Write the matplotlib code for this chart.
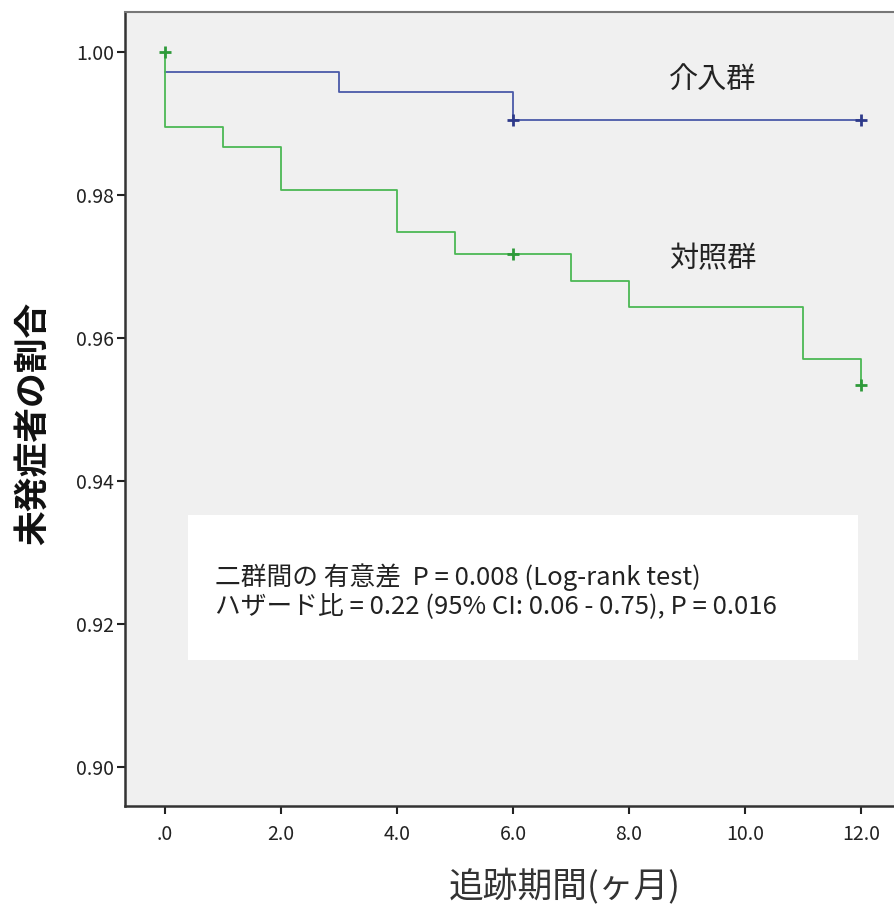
import matplotlib
matplotlib.use("Agg")
import matplotlib.pyplot as plt
from matplotlib.patches import Rectangle

plt.rcParams['font.family'] = ['Noto Sans CJK JP', 'DejaVu Sans']

# 介入群 (intervention)
int_time = [0, 3, 6, 12]
int_surv = [0.9972, 0.9944, 0.9905, 0.9905]
int_cens_t = [6, 12]
int_cens_s = [0.9905, 0.9905]

# 対照群 (control)
ctl_time = [0, 0, 1, 2, 4, 5, 7, 8, 11, 12, 12]
ctl_surv = [1.0, 0.9895, 0.9867, 0.9807, 0.9748, 0.9717, 0.9680, 0.9643, 0.9570, 0.9570, 0.9534]
ctl_cens_t = [0, 6, 12]
ctl_cens_s = [1.0, 0.9717, 0.9534]

xticks = [0, 2, 4, 6, 8, 10, 12]
xticklabels = ['.0', '2.0', '4.0', '6.0', '8.0', '10.0', '12.0']
yticks = [0.90, 0.92, 0.94, 0.96, 0.98, 1.00]

blue = '#4a5aa8'
green = '#4cb854'

fig = plt.figure(figsize=(8.94, 9.09), dpi=100)
ax = fig.add_axes([125/894, 103/909, 775/894, 794/909])
ax.set_facecolor('#f0f0f0')

ax.step(int_time, int_surv, where='post', color=blue, lw=1.3)
ax.step(ctl_time, ctl_surv, where='post', color=green, lw=1.3)
ax.plot(int_cens_t, int_cens_s, '+', color='#2e3a8a', ms=9, mew=2)
ax.plot(ctl_cens_t, ctl_cens_s, '+', color='#2e9a3a', ms=9, mew=2)

ax.set_xlim(-0.69, 12.67)
ax.set_ylim(0.8945, 1.0056)
ax.set_xticks(xticks)
ax.set_xticklabels(xticklabels)
ax.set_yticks(yticks)
ax.set_yticklabels(['%.2f' % v for v in yticks])
ax.tick_params(direction='out', length=6, width=1.5, labelsize=14, colors='#222222')
ax.tick_params(axis='x', pad=7)
ax.tick_params(axis='y', pad=2)

for s in ['left', 'bottom']:
    ax.spines[s].set_color('#333333')
    ax.spines[s].set_linewidth(1.8)
ax.spines['top'].set_color('#777777')
ax.spines['top'].set_linewidth(1.5)
ax.spines['right'].set_visible(False)

ax.text(0.7587, 0.914, '介入群', transform=ax.transAxes, ha='center', va='center',
        fontsize=21, color='#222222')
ax.text(0.7587, 0.688, '対照群', transform=ax.transAxes, ha='center', va='center',
        fontsize=21, color='#222222')

ax.add_patch(Rectangle((0.0813, 0.1839), 0.8645, 0.1826, transform=ax.transAxes,
                       facecolor='white', edgecolor='none', zorder=3))
ax.text(0.116, 0.2884, '二群間の 有意差  P = 0.008 (Log-rank test)', transform=ax.transAxes,
        ha='left', va='center', fontsize=18.5, color='#222222', zorder=4)
ax.text(0.116, 0.2506, 'ハザード比 = 0.22 (95% CI: 0.06 - 0.75), P = 0.016', transform=ax.transAxes,
        ha='left', va='center', fontsize=18.5, color='#222222', zorder=4)

fig.text(33/894, 1 - 423/909, '未発症者の割合', rotation=90, ha='center', va='center',
         fontsize=25, color='#111111', fontweight='bold')
fig.text(565/894, 1 - 887/909, '追跡期間(ヶ月)', ha='center', va='center',
         fontsize=25, color='#333333')

fig.savefig('out.png', dpi=100)
